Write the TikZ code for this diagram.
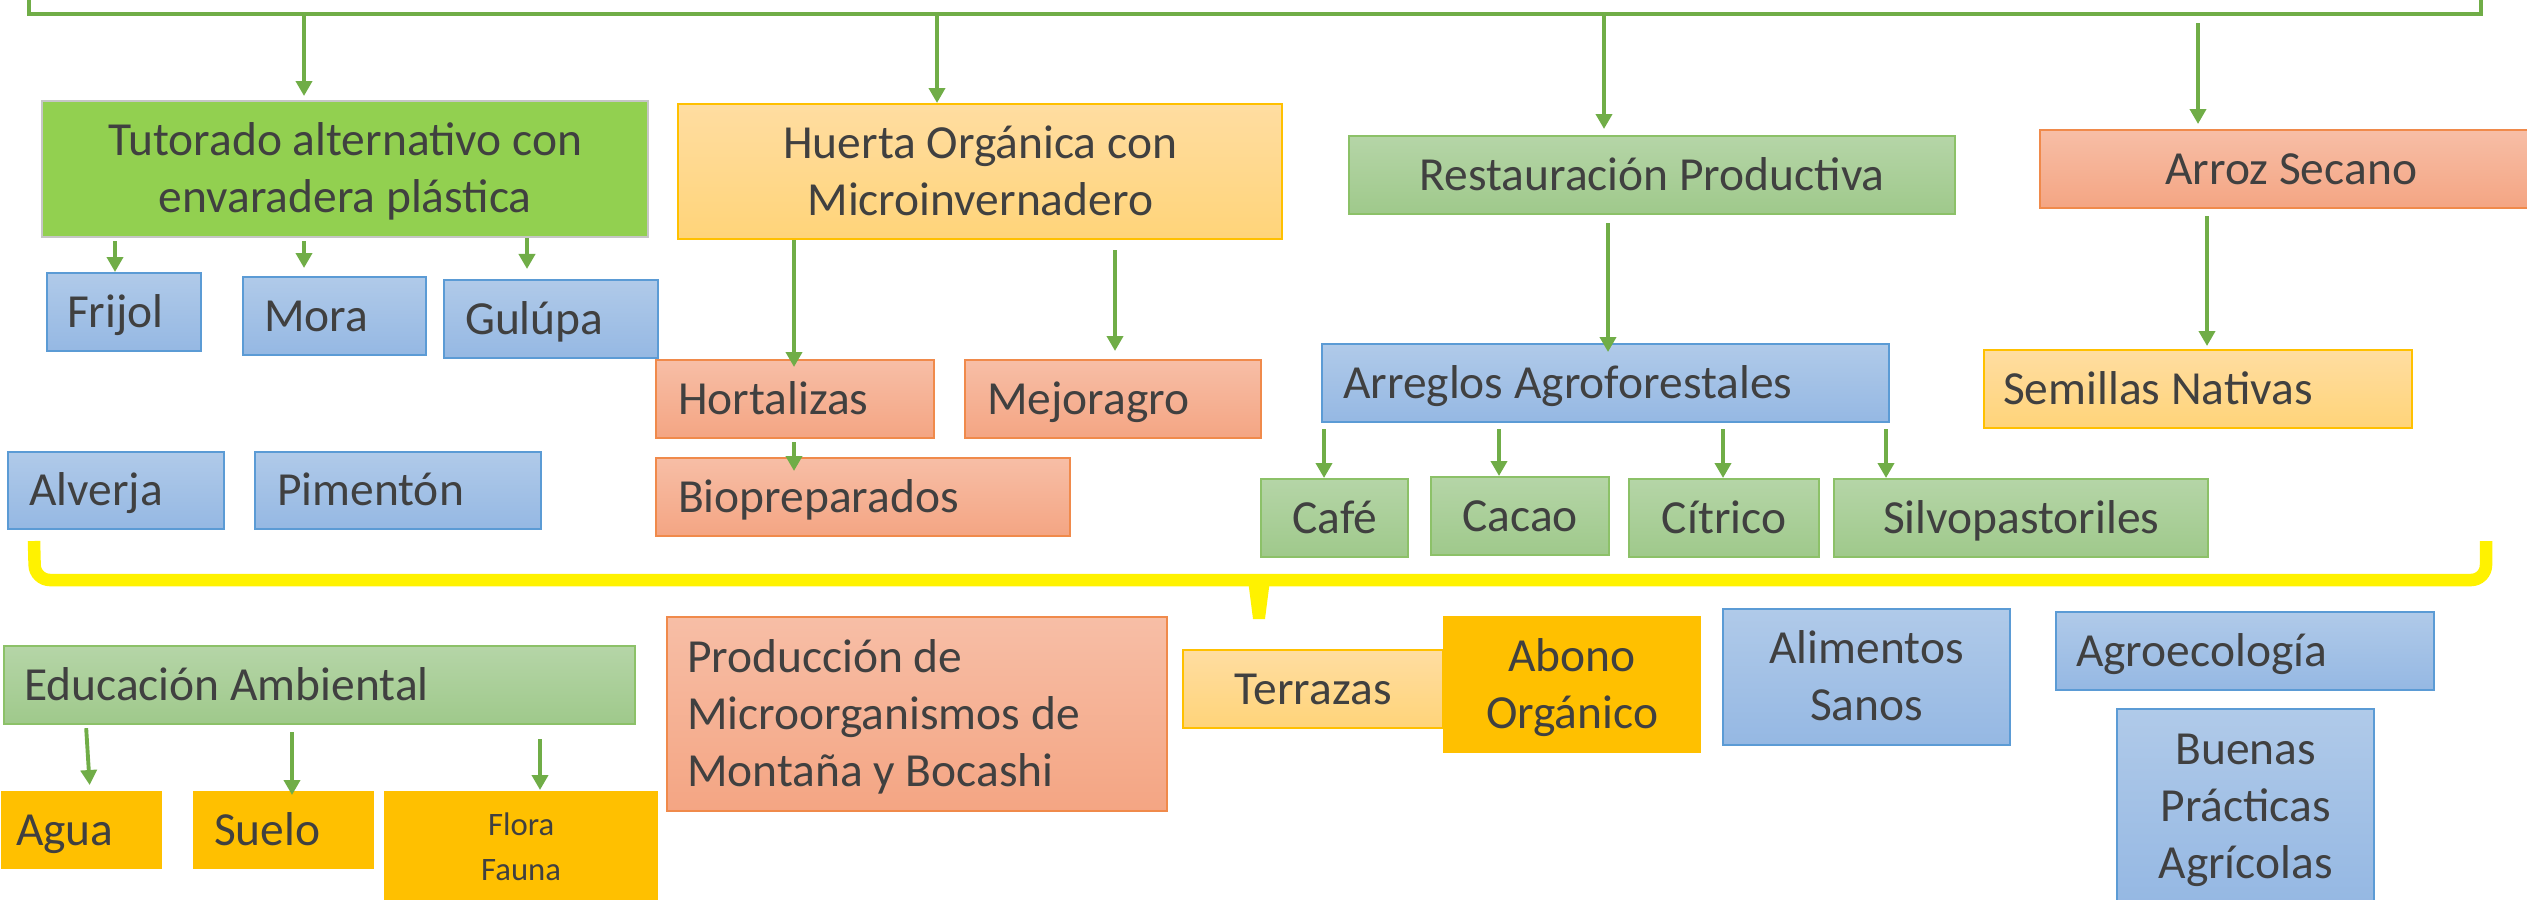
\documentclass[tikz,border=0pt]{standalone}
\usepackage{fontspec}
\setmainfont{Carlito}
\usetikzlibrary{arrows.meta}

\definecolor{txt}{HTML}{404040}
\definecolor{arrg}{HTML}{70AD47}
\definecolor{blueT}{HTML}{B0CAE9}
\definecolor{blueB}{HTML}{95B8E3}
\definecolor{blueL}{HTML}{5B9BD5}
\definecolor{greenT}{HTML}{B5D5A7}
\definecolor{greenB}{HTML}{9FC98B}
\definecolor{greenL}{HTML}{8CC168}
\definecolor{orT}{HTML}{F7BEA6}
\definecolor{orB}{HTML}{F4A583}
\definecolor{orL}{HTML}{F08A4B}
\definecolor{sandT}{HTML}{FFDDA1}
\definecolor{sandB}{HTML}{FFD479}
\definecolor{gold}{HTML}{FFC000}
\definecolor{lime}{HTML}{92D050}

\begin{document}
\begin{tikzpicture}[x=0.01cm,y=-0.01cm]
\tikzstyle{every node}=[font=\fontsize{13.5}{16.2}\selectfont, text=txt, anchor=north west, inner sep=0pt, line width=0.6pt, text height=0.30cm, text depth=0cm]
\tikzstyle{bluebox}=[draw=blueL, top color=blueT, bottom color=blueB]
\tikzstyle{greenbox}=[draw=greenL, top color=greenT, bottom color=greenB]
\tikzstyle{orangebox}=[draw=orL, top color=orT, bottom color=orB]
\tikzstyle{sandbox}=[draw=gold, top color=sandT, bottom color=sandB]
\tikzstyle{goldbox}=[fill=gold]
\tikzstyle{limebox}=[draw=gray!45, fill=lime]
\tikzstyle{two}=[align=center, text height=0.87cm]
\tikzstyle{three}=[align=center, text height=1.44cm]
\tikzstyle{lft}=[align=flush left]
\tikzstyle{arr}=[draw=arrg, line width=1.1pt, -{Triangle[width=0.16cm,length=0.15cm]}]
\useasboundingbox (0,0) rectangle (2527,899);
\clip (0,0) rectangle (2527,899);

\draw[arrg, line width=0.9pt] (29,0) -- (29,14) -- (2481,14) -- (2481,0);
\coordinate (ta) at (304,14);
\coordinate (tb) at (937,14);
\coordinate (tc) at (1604,14);
\coordinate (td) at (2198,14);

\node[limebox, two, minimum width=6.06cm, minimum height=1.36cm] (tut) at (41,100) {Tutorado alternativo con\\envaradera plástica};
\node[sandbox, two, minimum width=6.04cm, minimum height=1.35cm] (huerta) at (677,103) {Huerta Orgánica con\\Microinvernadero};
\node[greenbox, minimum width=6.06cm, minimum height=0.78cm] (rest) at (1348,135) {Restauración Productiva};
\node[orangebox, minimum width=5.02cm, minimum height=0.78cm] (arroz) at (2039,129) {Arroz Secano};

\node[bluebox, lft, minimum width=1.54cm, minimum height=0.78cm, text width=1.14cm, inner xsep=0.20cm] (frijol) at (46,272) {Frijol};
\node[bluebox, lft, minimum width=1.83cm, minimum height=0.78cm, text width=1.41cm, inner xsep=0.21cm] (mora) at (242,276) {Mora};
\node[bluebox, lft, minimum width=2.14cm, minimum height=0.78cm, text width=1.72cm, inner xsep=0.21cm] (gulupa) at (443,279) {Gulúpa};
\node[bluebox, lft, minimum width=2.16cm, minimum height=0.77cm, text width=1.74cm, inner xsep=0.21cm] (alverja) at (7,451) {Alverja};
\node[bluebox, lft, minimum width=2.86cm, minimum height=0.77cm, text width=2.42cm, inner xsep=0.22cm] (pimenton) at (254,451) {Pimentón};

\node[orangebox, lft, minimum width=2.78cm, minimum height=0.78cm, text width=2.34cm, inner xsep=0.22cm] (hort) at (655,359) {Hortalizas};
\node[orangebox, lft, minimum width=2.96cm, minimum height=0.78cm, text width=2.52cm, inner xsep=0.22cm] (mejor) at (964,359) {Mejoragro};
\node[orangebox, lft, minimum width=4.14cm, minimum height=0.78cm, text width=3.70cm, inner xsep=0.22cm] (biop) at (655,457) {Biopreparados};

\node[bluebox, lft, minimum width=5.67cm, minimum height=0.78cm, text width=5.25cm, inner xsep=0.21cm] (arreglos) at (1321,343) {Arreglos Agroforestales};
\node[sandbox, lft, minimum width=4.28cm, minimum height=0.78cm, text width=3.90cm, inner xsep=0.19cm] (semillas) at (1983,349) {Semillas Nativas};
\node[greenbox, minimum width=1.47cm, minimum height=0.78cm] (cafe) at (1260,478) {Café};
\node[greenbox, minimum width=1.78cm, minimum height=0.78cm] (cacao) at (1430,476) {Cacao};
\node[greenbox, minimum width=1.90cm, minimum height=0.78cm] (citrico) at (1628,478) {Cítrico};
\node[greenbox, minimum width=3.74cm, minimum height=0.78cm] (silvo) at (1833,478) {Silvopastoriles};

\draw[yellow, line width=0.125cm, rounded corners=0.15cm] (34,541) -- (35,580) -- (2486,580) -- (2486,541);
\fill[yellow] (1248,580) -- (1270,580) -- (1265,619) -- (1253,619) -- cycle;

\node[greenbox, lft, minimum width=6.31cm, minimum height=0.78cm, text width=5.91cm, inner xsep=0.20cm] (edu) at (3,645) {Educación Ambiental};
\node[goldbox, lft, minimum width=1.61cm, minimum height=0.78cm, text width=1.31cm, inner xsep=0.15cm] (agua) at (0,790) {Agua};
\node[goldbox, lft, minimum width=1.81cm, minimum height=0.78cm, text width=1.39cm, inner xsep=0.21cm] (suelo) at (192,790) {Suelo};
\node[goldbox, align=center, minimum width=2.74cm, minimum height=1.12cm, font=\fontsize{9.3}{12.8}\selectfont, text height=0.66cm] (flora) at (383,790) {Flora\\Fauna};
\node[orangebox, lft, minimum width=5.00cm, minimum height=1.94cm, text width=4.60cm, inner xsep=0.20cm, text depth=1.14cm] (prod) at (666,616) {Producción de\\Microorganismos de\\Montaña y Bocashi};
\node[sandbox, minimum width=2.60cm, minimum height=0.78cm] (terr) at (1182,649) {Terrazas};
\node[goldbox, two, minimum width=2.58cm, minimum height=1.37cm] (abono) at (1442,615) {Abono\\Orgánico};
\node[bluebox, two, minimum width=2.87cm, minimum height=1.36cm] (alim) at (1722,608) {Alimentos\\Sanos};
\node[bluebox, lft, minimum width=3.78cm, minimum height=0.78cm, text width=3.38cm, inner xsep=0.20cm] (agro) at (2055,611) {Agroecología};
\node[bluebox, three, minimum width=2.57cm, minimum height=1.94cm] (buenas) at (2116,708) {Buenas\\Prácticas\\Agrícolas};

\draw[arr, shorten >=0.04cm] (ta) -- (ta |- tut.north);
\draw[arr] (tb) -- (tb |- huerta.north);
\draw[arr, shorten >=0.06cm] (tc) -- (tc |- rest.north);
\draw[arr, shorten <=0.09cm, shorten >=0.05cm] (td) -- (td |- arroz.north);
\draw[arr, shorten <=0.03cm] (tut.south -| 115,0) -- (frijol.north -| 115,0);
\draw[arr, shorten <=0.03cm, shorten >=0.08cm] (tut.south -| 304,0) -- (mora.north -| 304,0);
\draw[arr, shorten >=0.10cm] (tut.south -| 527,0) -- (gulupa.north -| 527,0);
\draw[arr, shorten >=-0.08cm] (huerta.south -| 794,0) -- (hort.north -| 794,0);
\draw[arr, shorten <=0.10cm, shorten >=0.08cm] (huerta.south -| 1115,0) -- (mejor.north -| 1115,0);
\draw[arr, shorten <=0.03cm, shorten >=-0.14cm] (hort.south -| 794,0) -- (biop.north -| 794,0);
\draw[arr, shorten <=0.08cm, shorten >=-0.09cm] (rest.south -| 1608,0) -- (arreglos.north -| 1608,0);
\draw[arr, shorten <=0.07cm, shorten >=0.03cm] (arroz.south -| 2207,0) -- (semillas.north -| 2207,0);
\foreach \n/\x in {cafe/1324, cacao/1499, citrico/1723, silvo/1886}
  \draw[arr, shorten <=0.06cm] (arreglos.south -| \x,0) -- (\n.north -| \x,0);
\draw[arr, shorten <=0.03cm, shorten >=0.05cm] (edu.south -| 86,0) -- (agua.north -| 90,0);
\draw[arr, shorten <=0.07cm, shorten >=-0.05cm] (edu.south -| 292,0) -- (suelo.north -| 292,0);
\draw[arr, shorten <=0.14cm] (edu.south -| 540,0) -- (flora.north -| 540,0);
\end{tikzpicture}
\end{document}
